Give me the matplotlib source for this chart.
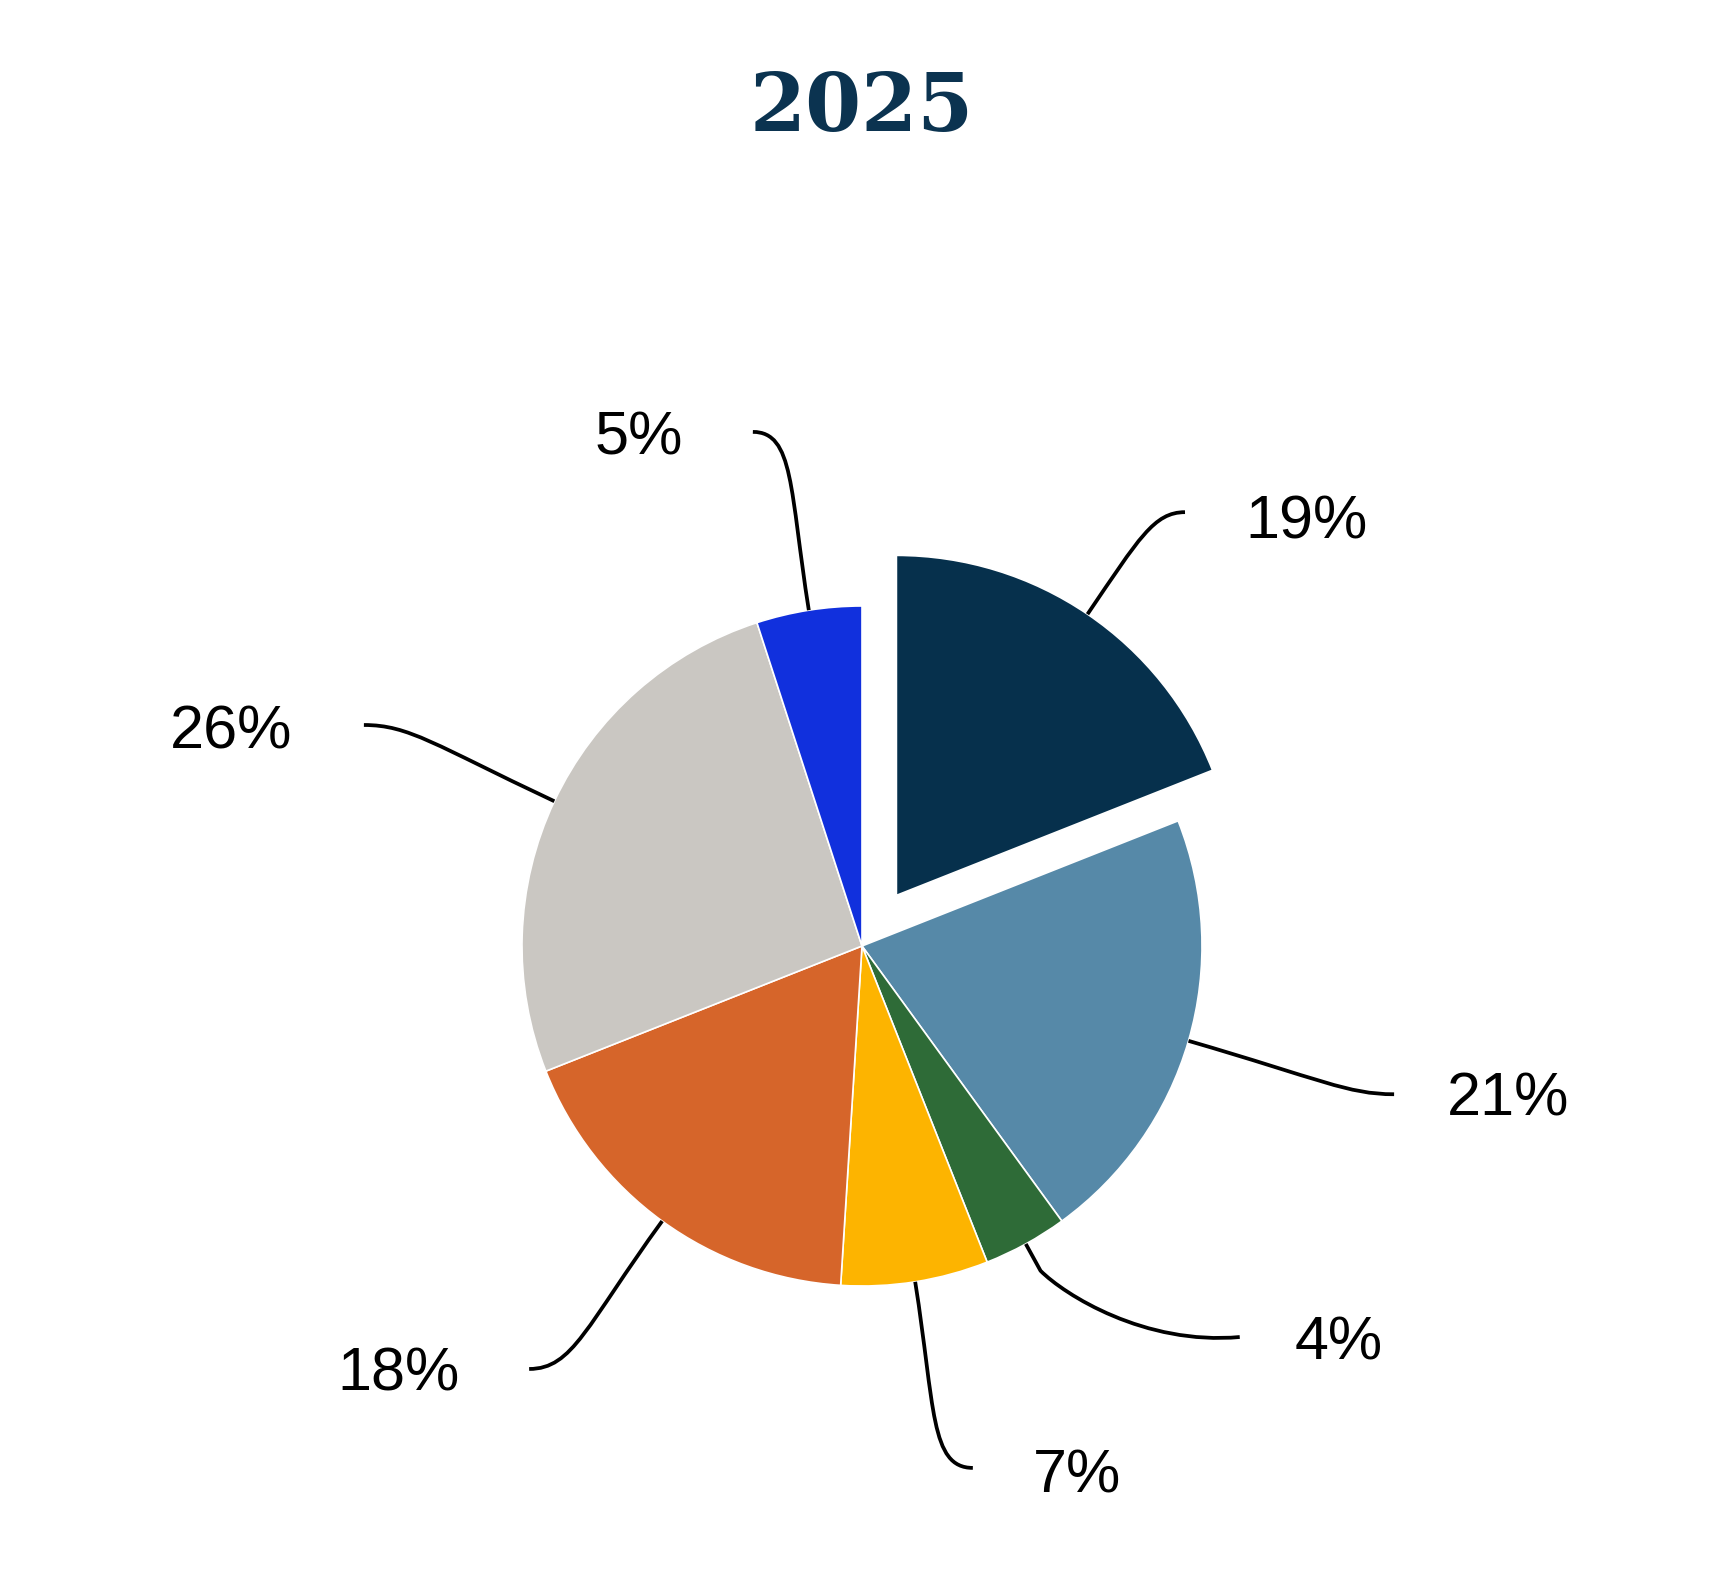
import numpy as np
import matplotlib
matplotlib.use("Agg")
import matplotlib.pyplot as plt
from matplotlib.path import Path
from matplotlib.patches import PathPatch

# Data
labels = ["19%", "21%", "4%", "7%", "18%", "26%", "5%"]
values = [19, 21, 4, 7, 18, 26, 5]
colors = ["#06304C", "#5689A8", "#2E6B37", "#FDB400", "#D6652A", "#CAC7C2", "#1130DD"]
explode = [0.18, 0, 0, 0, 0, 0, 0]
title = "2025"

# Layout (in pie-radius units): connector end and label position
conn_end = [(0.95, 1.276), (1.565, -0.436), (1.111, -1.150), (0.326, -1.535),
            (-0.979, -1.244), (-1.465, 0.650), (-0.321, 1.512)]
label_pos = [(1.306, 1.244), (1.900, -0.453), (1.403, -1.171), (0.632, -1.562),
             (-1.362, -1.262), (-1.856, 0.626), (-0.656, 1.491)]

W, H = 1728, 1596
fig = plt.figure(figsize=(W / 100, H / 100), dpi=100)
ax = fig.add_axes([0, 0, 1, 1])
cx, cy, r = 862, 946, 340

wedges, _ = ax.pie(values, colors=colors, explode=explode, startangle=90,
                   counterclock=False, radius=1, center=(0, 0), frame=True,
                   wedgeprops=dict(edgecolor="white", linewidth=1.2))
ax.set_xlim(-cx / r, (W - cx) / r)
ax.set_ylim(-(H - cy) / r, cy / r)
ax.set_aspect("auto")
ax.axis("off")

for i, (w, ex, end, lp, lab) in enumerate(zip(wedges, explode, conn_end, label_pos, labels)):
    ang = np.deg2rad((w.theta1 + w.theta2) / 2)
    d = np.array([np.cos(ang), np.sin(ang)])
    start = d * 1.0 + d * ex
    end = np.array(end)
    dist = np.linalg.norm(end - start)
    side = np.sign(end[0] - start[0]) if abs(end[0] - start[0]) > 1e-6 else 1
    if i == 2:
        # short radial segment, then a sweeping arc to the right
        knee = start + d * 0.09
        c1 = knee + np.array([0.07, -0.07])
        c2 = end - np.array([0.28, 0.025])
        verts = [start, knee, c1, c2, end]
        codes = [Path.MOVETO, Path.LINETO, Path.CURVE4, Path.CURVE4, Path.CURVE4]
    else:
        c1 = start + d * dist * 0.65
        c2 = end - np.array([side * dist * 0.22, 0])
        verts = [start, c1, c2, end]
        codes = [Path.MOVETO, Path.CURVE4, Path.CURVE4, Path.CURVE4]
    ax.add_patch(PathPatch(Path(verts, codes), fill=False, edgecolor="black",
                           lw=2.7, capstyle="butt", joinstyle="round"))
    ax.text(lp[0], lp[1], lab, ha="center", va="center", fontsize=44,
            family="Liberation Sans", color="black")

fig.text(862 / W, 1 - 109 / H, title, ha="center", va="center", fontsize=58,
         family="DejaVu Serif", fontweight="bold", color="#0B3350")

fig.savefig("out.png", dpi=100, facecolor="white")
